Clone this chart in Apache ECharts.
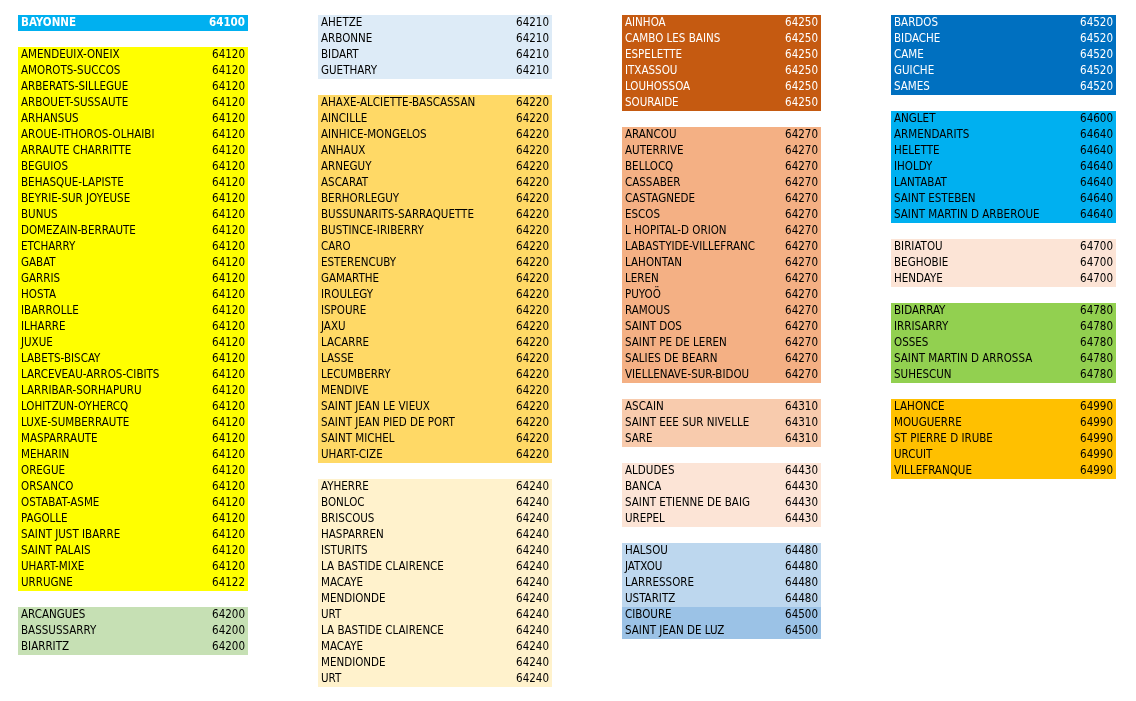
<!DOCTYPE html>
<html>
<head>
<meta charset="utf-8">
<script src="https://cdn.jsdelivr.net/npm/echarts@6/dist/echarts.min.js"></script>
<style>
  html, body { margin: 0; padding: 0; background: #fff; }
  #chart { width: 1136px; height: 701px; }
</style>
</head>
<body>
<div id="chart"></div>
<script>
// communes and postcodes, one pair of arrays per coloured block
const bayonneNames = ['BAYONNE'];
const bayonneCodes = [64100];

const names64120 = ['AMENDEUIX-ONEIX', 'AMOROTS-SUCCOS', 'ARBERATS-SILLEGUE', 'ARBOUET-SUSSAUTE', 'ARHANSUS',
  'AROUE-ITHOROS-OLHAIBI', 'ARRAUTE CHARRITTE', 'BEGUIOS', 'BEHASQUE-LAPISTE', 'BEYRIE-SUR JOYEUSE', 'BUNUS',
  'DOMEZAIN-BERRAUTE', 'ETCHARRY', 'GABAT', 'GARRIS', 'HOSTA', 'IBARROLLE', 'ILHARRE', 'JUXUE', 'LABETS-BISCAY',
  'LARCEVEAU-ARROS-CIBITS', 'LARRIBAR-SORHAPURU', 'LOHITZUN-OYHERCQ', 'LUXE-SUMBERRAUTE', 'MASPARRAUTE', 'MEHARIN',
  'OREGUE', 'ORSANCO', 'OSTABAT-ASME', 'PAGOLLE', 'SAINT JUST IBARRE', 'SAINT PALAIS', 'UHART-MIXE', 'URRUGNE'];
const codes64120 = [64120, 64120, 64120, 64120, 64120, 64120, 64120, 64120, 64120, 64120, 64120,
  64120, 64120, 64120, 64120, 64120, 64120, 64120, 64120, 64120, 64120, 64120, 64120, 64120, 64120, 64120,
  64120, 64120, 64120, 64120, 64120, 64120, 64120, 64122];

const names64200 = ['ARCANGUES', 'BASSUSSARRY', 'BIARRITZ'];
const codes64200 = [64200, 64200, 64200];

const names64210 = ['AHETZE', 'ARBONNE', 'BIDART', 'GUETHARY'];
const codes64210 = [64210, 64210, 64210, 64210];

const names64220 = ['AHAXE-ALCIETTE-BASCASSAN', 'AINCILLE', 'AINHICE-MONGELOS', 'ANHAUX', 'ARNEGUY', 'ASCARAT',
  'BERHORLEGUY', 'BUSSUNARITS-SARRAQUETTE', 'BUSTINCE-IRIBERRY', 'CARO', 'ESTERENCUBY', 'GAMARTHE', 'IROULEGY',
  'ISPOURE', 'JAXU', 'LACARRE', 'LASSE', 'LECUMBERRY', 'MENDIVE', 'SAINT JEAN LE VIEUX', 'SAINT JEAN PIED DE PORT',
  'SAINT MICHEL', 'UHART-CIZE'];
const codes64220 = [64220, 64220, 64220, 64220, 64220, 64220, 64220, 64220, 64220, 64220, 64220, 64220,
  64220, 64220, 64220, 64220, 64220, 64220, 64220, 64220, 64220, 64220, 64220];

const names64240 = ['AYHERRE', 'BONLOC', 'BRISCOUS', 'HASPARREN', 'ISTURITS', 'LA BASTIDE CLAIRENCE', 'MACAYE',
  'MENDIONDE', 'URT', 'LA BASTIDE CLAIRENCE', 'MACAYE', 'MENDIONDE', 'URT'];
const codes64240 = [64240, 64240, 64240, 64240, 64240, 64240, 64240, 64240, 64240, 64240, 64240, 64240, 64240];

const names64250 = ['AINHOA', 'CAMBO LES BAINS', 'ESPELETTE', 'ITXASSOU', 'LOUHOSSOA', 'SOURAIDE'];
const codes64250 = [64250, 64250, 64250, 64250, 64250, 64250];

const names64270 = ['ARANCOU', 'AUTERRIVE', 'BELLOCQ', 'CASSABER', 'CASTAGNEDE', 'ESCOS', 'L HOPITAL-D ORION',
  'LABASTYIDE-VILLEFRANC', 'LAHONTAN', 'LEREN', 'PUYOÖ', 'RAMOUS', 'SAINT DOS', 'SAINT PE DE LEREN',
  'SALIES DE BEARN', 'VIELLENAVE-SUR-BIDOU'];
const codes64270 = [64270, 64270, 64270, 64270, 64270, 64270, 64270, 64270, 64270, 64270, 64270, 64270,
  64270, 64270, 64270, 64270];

const names64310 = ['ASCAIN', 'SAINT EEE SUR NIVELLE', 'SARE'];
const codes64310 = [64310, 64310, 64310];

const names64430 = ['ALDUDES', 'BANCA', 'SAINT ETIENNE DE BAIG', 'UREPEL'];
const codes64430 = [64430, 64430, 64430, 64430];

const names64480 = ['HALSOU', 'JATXOU', 'LARRESSORE', 'USTARITZ'];
const codes64480 = [64480, 64480, 64480, 64480];

const names64500 = ['CIBOURE', 'SAINT JEAN DE LUZ'];
const codes64500 = [64500, 64500];

const names64520 = ['BARDOS', 'BIDACHE', 'CAME', 'GUICHE', 'SAMES'];
const codes64520 = [64520, 64520, 64520, 64520, 64520];

const names64640 = ['ANGLET', 'ARMENDARITS', 'HELETTE', 'IHOLDY', 'LANTABAT', 'SAINT ESTEBEN', 'SAINT MARTIN D ARBEROUE'];
const codes64640 = [64600, 64640, 64640, 64640, 64640, 64640, 64640];

const names64700 = ['BIRIATOU', 'BEGHOBIE', 'HENDAYE'];
const codes64700 = [64700, 64700, 64700];

const names64780 = ['BIDARRAY', 'IRRISARRY', 'OSSES', 'SAINT MARTIN D ARROSSA', 'SUHESCUN'];
const codes64780 = [64780, 64780, 64780, 64780, 64780];

const names64990 = ['LAHONCE', 'MOUGUERRE', 'ST PIERRE D IRUBE', 'URCUIT', 'VILLEFRANQUE'];
const codes64990 = [64990, 64990, 64990, 64990, 64990];

// where each block sits (column, first row) and how it is painted
const blocks = [
  { col: 0, row: 0,  names: bayonneNames, codes: bayonneCodes, fill: '#00B0F0', ink: '#ffffff', bold: true },
  { col: 0, row: 2,  names: names64120, codes: codes64120, fill: '#FFFF00', ink: '#000000' },
  { col: 0, row: 37, names: names64200, codes: codes64200, fill: '#C6E0B4', ink: '#000000' },
  { col: 1, row: 0,  names: names64210, codes: codes64210, fill: '#DDEBF7', ink: '#000000' },
  { col: 1, row: 5,  names: names64220, codes: codes64220, fill: '#FFD966', ink: '#000000' },
  { col: 1, row: 29, names: names64240, codes: codes64240, fill: '#FFF2CC', ink: '#000000' },
  { col: 2, row: 0,  names: names64250, codes: codes64250, fill: '#C55A11', ink: '#ffffff' },
  { col: 2, row: 7,  names: names64270, codes: codes64270, fill: '#F4B084', ink: '#000000' },
  { col: 2, row: 24, names: names64310, codes: codes64310, fill: '#F8CBAD', ink: '#000000' },
  { col: 2, row: 28, names: names64430, codes: codes64430, fill: '#FCE4D6', ink: '#000000' },
  { col: 2, row: 33, names: names64480, codes: codes64480, fill: '#BDD7EE', ink: '#000000' },
  { col: 2, row: 37, names: names64500, codes: codes64500, fill: '#9BC2E6', ink: '#000000' },
  { col: 3, row: 0,  names: names64520, codes: codes64520, fill: '#0070C0', ink: '#ffffff' },
  { col: 3, row: 6,  names: names64640, codes: codes64640, fill: '#00B0F0', ink: '#000000' },
  { col: 3, row: 14, names: names64700, codes: codes64700, fill: '#FCE4D6', ink: '#000000' },
  { col: 3, row: 18, names: names64780, codes: codes64780, fill: '#92D050', ink: '#000000' },
  { col: 3, row: 24, names: names64990, codes: codes64990, fill: '#FFC000', ink: '#000000' }
];

// column edges in x-axis units (pixels) and the width left for the name
const colLeft = [18, 318, 622, 891];
const colRight = [248, 552, 821, 1116];
const nameWidth = [200, 200, 145, 200];
const FONT = 'DejaVu Sans Condensed, Liberation Sans Narrow, sans-serif';

const cells = [];
blocks.forEach((b, bi) => {
  b.names.forEach((n, i) => cells.push([b.col, b.row + i, n, b.codes[i], bi]));
});

const chart = echarts.init(document.getElementById('chart'));

chart.setOption({
  animation: false,
  grid: { left: 0, right: 0, top: 0, bottom: 0 },
  xAxis: { type: 'value', min: 0, max: 1136, show: false },
  // one unit per spreadsheet row, first row starts 15px down
  yAxis: { type: 'value', min: -15 / 16, max: 686 / 16, inverse: true, show: false },
  series: [{
    type: 'custom',
    data: cells,
    renderItem: function (params, api) {
      const cell = cells[params.dataIndex];
      const c = cell[0], r = cell[1];
      const b = blocks[cell[4]];
      const p0 = api.coord([colLeft[c], r]);
      const p1 = api.coord([colRight[c], r + 1]);
      const mid = (p0[1] + p1[1]) / 2 + 0.5;
      const txt = {
        fill: b.ink,
        fontSize: 11.5,
        fontFamily: FONT,
        fontWeight: b.bold ? 'bold' : 'normal',
        verticalAlign: 'middle'
      };
      return {
        type: 'group',
        children: [
          {
            type: 'rect',
            shape: { x: p0[0], y: p0[1], width: p1[0] - p0[0], height: p1[1] - p0[1] },
            style: { fill: b.fill }
          },
          {
            type: 'text',
            x: p0[0] + 3,
            y: mid,
            style: Object.assign({}, txt, {
              text: cell[2], align: 'left', width: nameWidth[c], overflow: 'truncate', ellipsis: ''
            })
          },
          {
            type: 'text',
            x: p1[0] - 3,
            y: mid,
            style: Object.assign({}, txt, { text: String(cell[3]), align: 'right' })
          }
        ]
      };
    }
  }]
});

window.addEventListener('resize', () => chart.resize());
</script>
</body>
</html>
